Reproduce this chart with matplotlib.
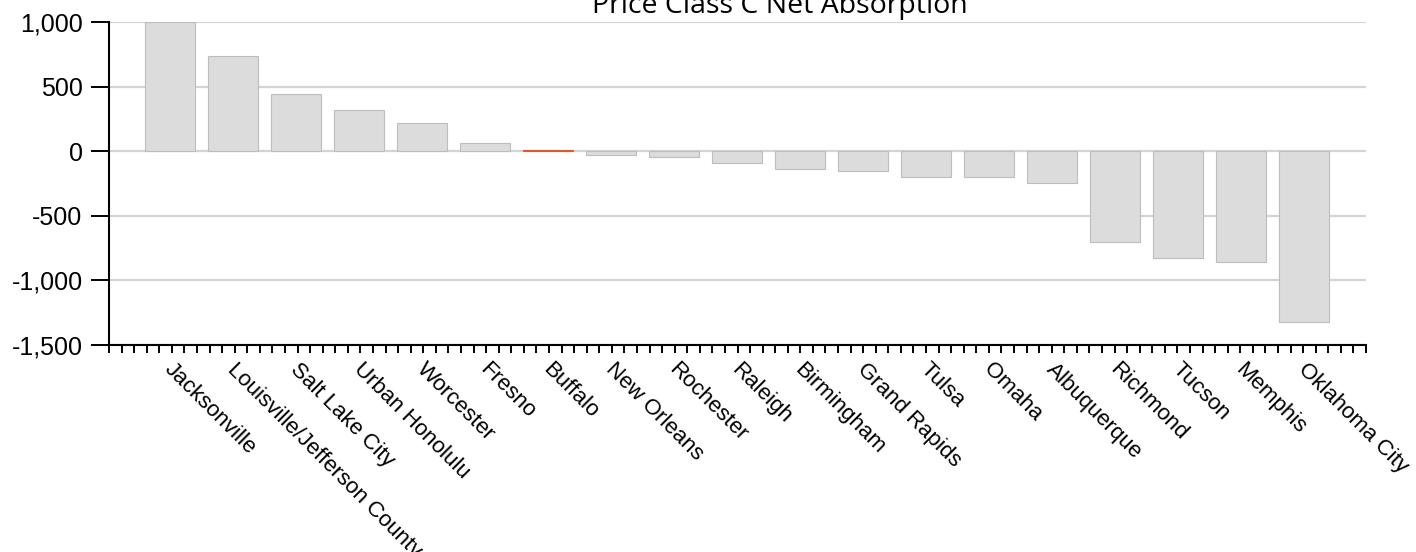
import numpy as np
import matplotlib
matplotlib.use("Agg")
import matplotlib.pyplot as plt
import matplotlib.transforms as mtransforms
from matplotlib.ticker import FuncFormatter

# 数据：各城市 C 类净吸纳量
cities = ['Jacksonville', 'Louisville/Jefferson County', 'Salt Lake City', 'Urban Honolulu',
          'Worcester', 'Fresno', 'Buffalo', 'New Orleans', 'Rochester', 'Raleigh',
          'Birmingham', 'Grand Rapids', 'Tulsa', 'Omaha', 'Albuquerque', 'Richmond',
          'Tucson', 'Memphis', 'Oklahoma City']
net_absorption = [1000, 734, 439, 318, 222, 67, 12, -26, -44, -90,
                  -137, -153, -199, -199, -245, -700, -827, -858, -1320]
highlight = 'Buffalo'
y_ticks = [-1500, -1000, -500, 0, 500, 1000]

plt.rcParams['font.family'] = ['Liberation Sans', 'DejaVu Sans']

fig = plt.figure(figsize=(14.16, 5.52), dpi=100)
ax = fig.add_axes([109 / 1416, 1 - 345 / 552, 1257 / 1416, 323 / 552])

x = np.arange(len(cities))
colors = ['#e0592a' if c == highlight else '#dcdcdc' for c in cities]
edges = ['#e0592a' if c == highlight else '#bdbdbd' for c in cities]
ax.bar(x, net_absorption, width=0.79, color=colors, edgecolor=edges, linewidth=0.8, zorder=2)

xlo, xhi = -0.968, 18.98
ax.set_xlim(xlo, xhi)
ax.set_ylim(-1500, 1000)

ax.set_yticks(y_ticks)
ax.yaxis.set_major_formatter(FuncFormatter(lambda v, p: f'{int(v):,}'))
ax.yaxis.grid(True, color='#d4d4d4', linewidth=1.6, zorder=0)
ax.set_axisbelow(True)

ax.set_xticks(x)
ax.set_xticklabels(cities)
ax.set_xticks(np.linspace(xlo, xhi, 101), minor=True)
ax.tick_params(axis='x', which='major', length=0, pad=10, labelsize=16)
ax.tick_params(axis='x', which='minor', length=6, width=1.4, color='black')
ax.tick_params(axis='y', length=13, width=1.4, labelsize=18, pad=6)
shift = mtransforms.ScaledTranslation(5 / 100, 0, fig.dpi_scale_trans)
for lab in ax.get_xticklabels():
    lab.set_rotation(-45)
    lab.set_ha('left')
    lab.set_va('top')
    lab.set_rotation_mode('anchor')
    lab.set_transform(lab.get_transform() + shift)

for side in ['top', 'right']:
    ax.spines[side].set_visible(False)
for side in ['left', 'bottom']:
    ax.spines[side].set_linewidth(1.5)
    ax.spines[side].set_color('black')

fig.text(780 / 1416, 1 - 13 / 552, 'Price Class C Net Absorption', ha='center', va='baseline',
         fontsize=20.5, family=['Open Sans', 'DejaVu Sans'])

fig.savefig('out.png', dpi=100)
